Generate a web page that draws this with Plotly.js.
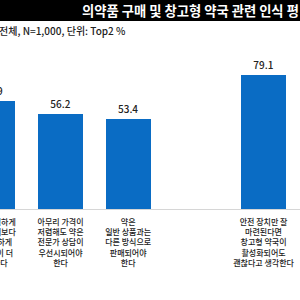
<!DOCTYPE html>
<html>
<head>
<meta charset="utf-8">
<script src="https://cdn.plot.ly/plotly-3.0.1.min.js"></script>
<style>
  html, body { margin: 0; padding: 0; background: #ffffff; width: 300px; height: 300px; overflow: hidden; }
  #frame { position: relative; width: 300px; height: 300px; overflow: hidden; }
  /* the full chart is wider than the frame; its left part sits outside the view */
  #chart { position: absolute; left: -50px; top: 0; width: 350px; height: 300px; }
</style>
</head>
<body>
<div id="frame"><div id="chart"></div></div>
<script>
// Survey statements (slot positions leave an empty slot between groups)
const categories = [
  "약을 저렴하게<br>대량 구매보다<br>더 안전하게<br>사는 것이 더<br>중요하다",
  "아무리 가격이<br>저렴해도 약은<br>전문가 상담이<br>우선시되어야<br>한다",
  "약은<br>일반 상품과는<br>다른 방식으로<br>판매되어야<br>한다",
  "안전 장치만 잘<br>마련된다면<br>창고형 약국이<br>활성화되어도<br>괜찮다고 생각한다"
];
const slots = [0, 1, 2, 4];
const top2Values = [63.9, 56.2, 53.4, 79.1];

const titleText = "의약품 구매 및 창고형 약국 관련 인식 평";
const subtitleText = "전체, N=1,000, 단위: Top2 %";

const FONT = "'Noto Sans CJK KR', 'Noto Sans', sans-serif";

const trace = {
  type: "bar",
  x: slots,
  y: top2Values,
  width: 0.665,
  marker: { color: "#0a6cc4", line: { width: 0 } },
  text: top2Values.map(v => v.toFixed(1)),
  textposition: "outside",
  textfont: { family: FONT, size: 10, color: "#222222", weight: 500 },
  cliponaxis: false,
  hoverinfo: "none"
};

const layout = {
  width: 350,
  height: 300,
  margin: { l: 0, r: 0, t: 40, b: 91, pad: 0 },
  paper_bgcolor: "#ffffff",
  plot_bgcolor: "#ffffff",
  showlegend: false,
  bargap: 0,
  xaxis: {
    range: [-0.633, 4.539],
    tickvals: slots,
    ticktext: categories,
    tickfont: { family: FONT, size: 8, color: "#222222", weight: 500 },
    ticklabelstandoff: 5,
    ticks: "",
    showgrid: false,
    zeroline: false,
    showline: true,
    linecolor: "#d6d6d6",
    linewidth: 1,
    fixedrange: true
  },
  yaxis: {
    range: [0, 99.8],
    showgrid: false,
    zeroline: false,
    showline: false,
    showticklabels: false,
    ticks: "",
    fixedrange: true
  },
  shapes: [
    {
      type: "rect", xref: "paper", yref: "paper",
      x0: -0.1, x1: 1.1, y0: 1.1124, y1: 1.3,
      fillcolor: "#000000", line: { width: 0 }, layer: "above"
    }
  ],
  annotations: [
    {
      xref: "paper", yref: "paper", x: 0.3714, y: 1.1716,
      xanchor: "left", yanchor: "middle", showarrow: false,
      text: "<b>" + titleText + "</b>",
      font: { family: FONT, size: 13.3, color: "#ffffff" }
    },
    {
      xref: "paper", yref: "paper", x: 0.1343, y: 1.059,
      xanchor: "left", yanchor: "middle", showarrow: false,
      text: subtitleText,
      font: { family: FONT, size: 10, color: "#222222", weight: 500 }
    }
  ]
};

Plotly.newPlot("chart", [trace], layout, { displayModeBar: false, staticPlot: true });
</script>
</body>
</html>
